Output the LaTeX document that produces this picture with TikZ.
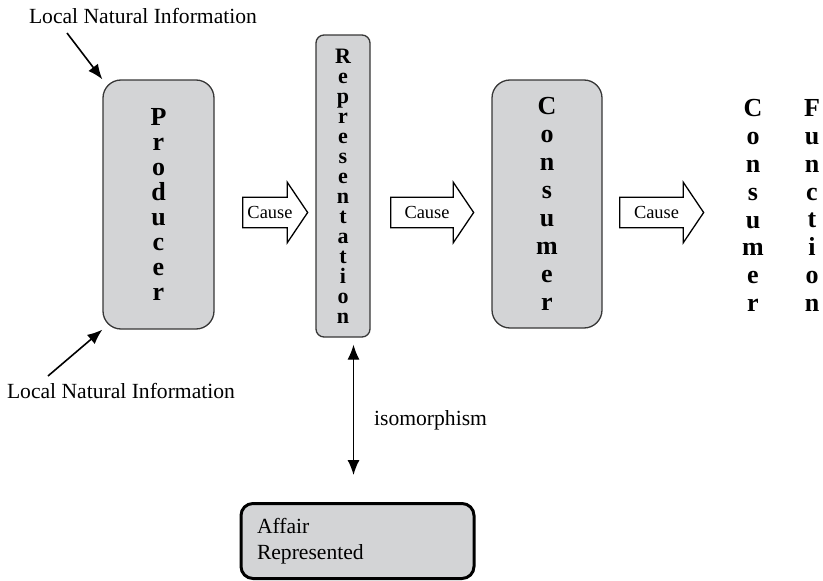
\documentclass[tikz,border=0pt]{standalone}
\usepackage{fontspec}
\setmainfont{Liberation Serif}
\usetikzlibrary{arrows.meta, positioning, shapes.arrows}
\definecolor{partgray}{RGB}{211,212,214}
\definecolor{partborder}{RGB}{55,55,55}

\begin{document}
\begin{tikzpicture}[x=1pt, y=-1pt,
    part/.style={draw=partborder, fill=partgray, line width=1.3pt,
      rounded corners=18pt, align=center, inner sep=0pt,
      font=\fontsize{26}{25}\selectfont\bfseries},
    cause/.style={draw, single arrow, single arrow head extend=15pt,
      single arrow tip angle=112, minimum width=60pt, line width=1.3pt,
      inner xsep=3pt, inner ysep=8.5pt, anchor=west,
      font=\fontsize{18.4}{20}\selectfont},
    note/.style={inner sep=0pt, font=\fontsize{21.6}{26}\selectfont},
    >={Latex[length=15pt, width=12pt]}
  ]
  \useasboundingbox (0,0) rectangle (823,581);

  % the three stages
  \node[part, minimum width=111pt, minimum height=249pt] (prod)
    at (158.5,204.5) {P\\r\\o\\d\\u\\c\\e\\r};
  \node[part, rounded corners=8pt, minimum width=54pt, minimum height=302pt,
    font=\fontsize{22}{20}\selectfont\bfseries] (rep)
    at (343,186) {R\\e\\p\\r\\e\\s\\e\\n\\t\\a\\t\\i\\o\\n};
  \node[part, minimum width=110pt, minimum height=248pt,
    font=\fontsize{26}{27.9}\selectfont\bfseries] (cons)
    at (547,204) {C\\o\\n\\s\\u\\m\\e\\r};
  \node[align=center, inner sep=0pt,
    font=\fontsize{26}{27.9}\selectfont\bfseries] (confun1)
    at (753,205.5) {C\\o\\n\\s\\u\\m\\e\\r};
  \node[align=center, inner sep=0pt,
    font=\fontsize{26}{27.9}\selectfont\bfseries] (confun2)
    at (812,205.5) {F\\u\\n\\c\\t\\i\\o\\n};

  % causal arrows
  \node[cause, minimum height=65pt] (cause1) at (242,212.5) {Cause};
  \node[cause, minimum height=83pt] (cause2) at (390,212.5) {Cause};
  \node[cause, minimum height=84pt] (cause3) at (619,212.5) {Cause};

  % information entering the producer
  \node[note] (info1) at (143,16) {Local Natural Information};
  \node[note] (info2) at (121,391) {Local Natural Information};
  \coordinate (in1) at (67,33);
  \coordinate (in2) at (48,376);
  \draw[->, line width=1.6pt] (in1) -- (prod.north west);
  \draw[->, line width=1.6pt] (in2) -- (prod.south west);

  % represented affair
  \node[note, draw=black, fill=partgray, line width=3pt, rounded corners=12pt,
    minimum width=233pt, minimum height=75pt, text width=201pt,
    inner xsep=16pt, align=left] (aff) at (357.5,541)
    {Affair\\Represented};
  \draw[<->, line width=1.3pt, shorten <=7pt, shorten >=27pt]
    ([xshift=-4pt]aff.north |- rep.south) -- ([xshift=-4pt]aff.north)
    node[note, midway, right=20pt] (iso) {isomorphism};
\end{tikzpicture}
\end{document}
